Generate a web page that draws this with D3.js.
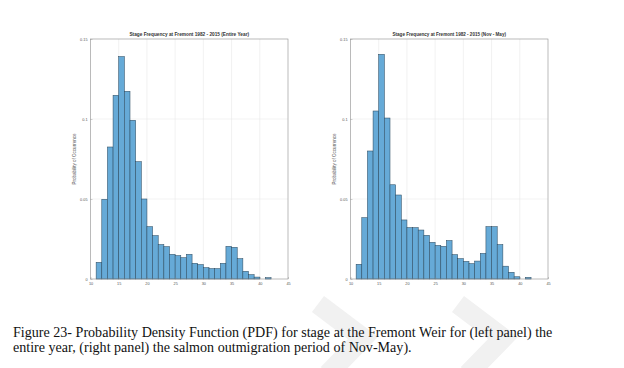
<!DOCTYPE html>
<html><head><meta charset="utf-8">
<script src="https://cdn.jsdelivr.net/npm/d3@7"></script>
<style>body{margin:0;background:#fff}svg{display:block}</style>
</head><body>
<script>
// ---- data ----
const binStarts = [11,12,13,14,15,16,17,18,19,20,21,22,23,24,25,26,27,28,29,30,31,32,33,34,35,36,37,38,39,40,41];
const binWidth = 1;
const entireYear = [0.0104,0.0498,0.0825,0.1148,0.1390,0.1173,0.0992,0.0733,0.0500,0.0327,0.0271,0.0215,0.0202,0.0154,0.0146,0.0133,0.0154,0.0098,0.0090,0.0071,0.0065,0.0065,0.0098,0.0204,0.0198,0.0127,0.0048,0.0027,0.0012,0.0000,0.0008];
const novMay     = [0.0092,0.0383,0.0800,0.1050,0.1404,0.1006,0.0589,0.0525,0.0369,0.0321,0.0321,0.0306,0.0273,0.0229,0.0210,0.0204,0.0240,0.0152,0.0127,0.0110,0.0096,0.0112,0.0160,0.0327,0.0327,0.0215,0.0080,0.0042,0.0014,0.0000,0.0010];
const xTicks = [10,15,20,25,30,35,40,45];
const yTicks = [0,0.05,0.1,0.15];
const yTickLabels = ["0","0.05","0.1","0.15"];
const titles = ["Stage Frequency at Fremont 1982 - 2015 (Entire Year)","Stage Frequency at Fremont 1982 - 2015 (Nov - May)"];
const yLabel = "Probability of Occurrence";
const captionLines = ["Figure 23- Probability Density Function (PDF) for stage at the Fremont Weir for (left panel) the",
                      "entire year, (right panel) the salmon outmigration period of Nov-May)."];

// ---- layout ----
const W = 624, H = 368;
const svg = d3.select("body").append("svg").attr("width", W).attr("height", H);

// faint watermark stripes
const wm = svg.append("g").attr("fill", "none").attr("stroke", "#f1f1f1").attr("stroke-width", 20).attr("stroke-linejoin","miter");
[[318, 304], [458, 304]].forEach(([x0, y0]) => {
  wm.append("path").attr("d", `M${x0},${y0} L${x0+45},${y0+34} L${x0+10},${y0+70}`);
});

const plotTop = 39, plotBottom = 279;
const panels = [
  {left: 90.5, right: 288, values: entireYear, title: titles[0]},
  {left: 350.5, right: 548, values: novMay, title: titles[1]}
];

function fitText(sel, targetWidth, baseSize) {
  sel.attr("font-size", baseSize);
  const w = sel.node().getComputedTextLength();
  sel.attr("font-size", baseSize * targetWidth / w);
}

panels.forEach((p, i) => {
  const x = d3.scaleLinear().domain([10, 45]).range([p.left, p.right]);
  const y = d3.scaleLinear().domain([0, 0.15]).range([plotBottom, plotTop]);
  const g = svg.append("g");

  // grid
  g.append("g").selectAll("line").data(xTicks.slice(1, -1)).join("line")
    .attr("x1", d => x(d)).attr("x2", d => x(d)).attr("y1", plotTop).attr("y2", plotBottom)
    .attr("stroke", "#e4e4e4").attr("stroke-width", 0.5);
  g.append("g").selectAll("line").data(yTicks.slice(1, -1)).join("line")
    .attr("y1", d => y(d)).attr("y2", d => y(d)).attr("x1", p.left).attr("x2", p.right)
    .attr("stroke", "#e4e4e4").attr("stroke-width", 0.5);

  // bars
  g.append("g").selectAll("rect").data(binStarts.map((b, j) => ({b, v: p.values[j]})).filter(d => d.v > 0)).join("rect")
    .attr("x", d => x(d.b)).attr("width", d => x(d.b + binWidth) - x(d.b))
    .attr("y", d => y(d.v)).attr("height", d => y(0) - y(d.v))
    .attr("fill", "#66aad7").attr("stroke", "#2e4d63").attr("stroke-width", 0.55);

  // axes
  const xa = g.append("g").attr("transform", `translate(0,${plotBottom})`)
    .call(d3.axisBottom(x).tickValues(xTicks).tickSize(-2).tickPadding(3.5));
  xa.select(".domain").remove();
  xa.selectAll("text").attr("font-size", 3.8).attr("fill", "#555").attr("font-family", "Liberation Sans, Arial, sans-serif");
  xa.selectAll("line").attr("stroke", "#888").attr("stroke-width", 0.4);

  const ya = g.append("g").attr("transform", `translate(${p.left},0)`)
    .call(d3.axisLeft(y).tickValues(yTicks).tickFormat((d, k) => yTickLabels[k]).tickSize(-2).tickPadding(3));
  ya.select(".domain").remove();
  ya.selectAll("text").attr("font-size", 3.8).attr("fill", "#555").attr("font-family", "Liberation Sans, Arial, sans-serif");
  ya.selectAll("line").attr("stroke", "#888").attr("stroke-width", 0.4);

  // box
  g.append("rect").attr("x", p.left).attr("y", plotTop).attr("width", p.right - p.left).attr("height", plotBottom - plotTop)
    .attr("fill", "none").attr("stroke", "#8c8c8c").attr("stroke-width", 0.6);

  // title
  const t = g.append("text").attr("x", (p.left + p.right) / 2).attr("y", 36)
    .attr("text-anchor", "middle").attr("font-weight", "bold").attr("fill", "#333")
    .attr("font-family", "Liberation Sans, Arial, sans-serif").text(p.title);
  fitText(t, i === 0 ? 120 : 114, 5);

  // y label
  const yl = g.append("text").attr("transform", `translate(${p.left - 14.5},${(plotTop + plotBottom) / 2}) rotate(-90)`)
    .attr("text-anchor", "middle").attr("fill", "#555")
    .attr("font-family", "Liberation Sans, Arial, sans-serif").text(yLabel);
  fitText(yl, 51, 4.2);
});

// caption
const cap = svg.append("g").attr("font-family", "Liberation Serif, Times New Roman, serif").attr("fill", "#111");
const l1 = cap.append("text").attr("x", 13).attr("y", 336.5).text(captionLines[0]);
fitText(l1, 540, 14);
const fs = +l1.attr("font-size");
cap.append("text").attr("x", 13).attr("y", 351.5).attr("font-size", fs).text(captionLines[1]);
</script>
</body></html>
